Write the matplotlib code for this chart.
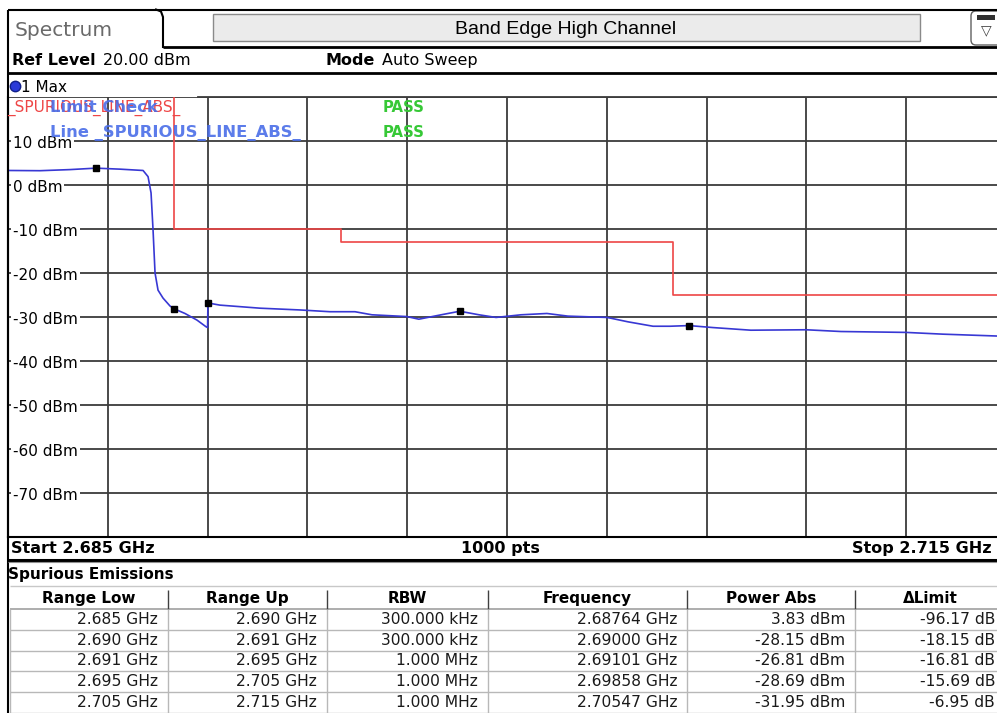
import numpy as np
import matplotlib
matplotlib.use("Agg")
import matplotlib.pyplot as plt
import matplotlib.transforms as mtransforms
from matplotlib.patches import Rectangle, FancyBboxPatch

plt.rcParams['font.family'] = ['DejaVu Sans']

W, H = 997, 713   # picture size in pixels
DPI = 100

# sweep settings
F_START = 2.685   # GHz
F_STOP = 2.715
REF_LEVEL = 20.0  # dBm
RANGE_DB = 100.0

# max hold trace (GHz, dBm)
trace_freq = [2.68500, 2.68596, 2.68686, 2.68764, 2.68837, 2.68906, 2.68921,
              2.68930, 2.68936, 2.68942, 2.68951, 2.68966, 2.68987, 2.69000,
              2.69032, 2.69068, 2.69095, 2.69100, 2.69101, 2.69137, 2.69258,
              2.69378, 2.69468, 2.69543, 2.69594, 2.69699, 2.69735, 2.69802,
              2.69858, 2.69916, 2.69967, 2.70042, 2.70120, 2.70183, 2.70301,
              2.70364, 2.70439, 2.70490, 2.70547, 2.70619, 2.70733, 2.70899,
              2.71004, 2.71199, 2.71310, 2.71464, 2.71500]
trace_dbm = [3.3, 3.25, 3.5, 3.83, 3.6, 3.3, 1.9,
             -1.8, -10.2, -20.0, -23.9, -25.7, -27.5, -28.15,
             -29.2, -30.7, -32.2, -32.4, -26.81, -27.3, -28.0,
             -28.4, -28.8, -28.8, -29.5, -29.9, -30.5, -29.5,
             -28.69, -29.5, -30.1, -29.5, -29.2, -29.8, -30.1,
             -31.1, -32.1, -32.1, -31.95, -32.4, -33.0, -32.9,
             -33.3, -33.5, -33.9, -34.3, -34.4]

# spurious emissions table
range_low = [2.685, 2.690, 2.691, 2.695, 2.705]   # GHz
range_up = [2.690, 2.691, 2.695, 2.705, 2.715]
rbw_txt = ["300.000 kHz", "300.000 kHz", "1.000 MHz", "1.000 MHz", "1.000 MHz"]
peak_freq = [2.68764, 2.69000, 2.69101, 2.69858, 2.70547]
power_abs = [3.83, -28.15, -26.81, -28.69, -31.95]
delta_limit = [-96.17, -18.15, -16.81, -15.69, -6.95]
col_titles = ["Range Low", "Range Up", "RBW", "Frequency", "Power Abs", "\u0394Limit"]

# limit line level per range = power - delta
limit_dbm = [round(p - d, 2) for p, d in zip(power_abs, delta_limit)]

TRACE_C = '#3838d4'
LIMIT_C = '#ee4646'
GRID_C = '#3c3c3c'
INFO_C = '#4a6ee8'

fig = plt.figure(figsize=(W / DPI, H / DPI), dpi=DPI)
fig.patch.set_facecolor('white')

# diagram area, in pixels: x 8..1006 (cut off at the right), y 97..537
px_l, px_r, px_t, px_b = 8, 1006, 97, 537
ax = fig.add_axes([px_l / W, 1 - px_b / H, (px_r - px_l) / W, (px_b - px_t) / H])
ax.set_xlim(F_START, F_STOP)
ax.set_ylim(REF_LEVEL - RANGE_DB, REF_LEVEL)
ax.set_xticks(np.linspace(F_START, F_STOP, 11))
ax.set_yticks(np.arange(REF_LEVEL - RANGE_DB, REF_LEVEL + 1, 10))
ax.tick_params(length=0, labelleft=False, labelbottom=False)
ax.grid(True, color=GRID_C, lw=1.3, zorder=1)
ax.set_axisbelow(True)
for s in ['left', 'bottom']:
    ax.spines[s].set_color('black')
    ax.spines[s].set_linewidth(1.5)
ax.spines['top'].set_visible(False)
ax.spines['right'].set_visible(False)
ax.plot([0.19, 1.0], [1.0, 1.0], transform=ax.transAxes, color=GRID_C, lw=1.3,
        clip_on=False, zorder=1)

# limit line as steps
lim_x, lim_y = [], []
for lo, up, lv in zip(range_low, range_up, limit_dbm):
    lim_x += [lo, up]
    lim_y += [lv, lv]
ax.plot(lim_x, lim_y, color=LIMIT_C, lw=1.2, zorder=3)

ax.plot(trace_freq, trace_dbm, color=TRACE_C, lw=1.2, zorder=4)
ax.plot(peak_freq, power_abs, 's', color='black', ms=4, zorder=5)

# level labels on the left, with white background over the grid
lbl_trans = mtransforms.blended_transform_factory(ax.transAxes, ax.transData) + \
    mtransforms.ScaledTranslation(5 / DPI, -7 / DPI, fig.dpi_scale_trans)
for lv in np.arange(10, REF_LEVEL - RANGE_DB, -10):
    ax.text(0, lv, f"{int(lv)} dBm", transform=lbl_trans, fontsize=11, va='baseline',
            ha='left', zorder=3,
            bbox=dict(facecolor='white', edgecolor='none', boxstyle='square,pad=0.12'))

# overlay in pixel coordinates for all the frame stuff
ov = fig.add_axes([0, 0, 1, 1], zorder=10)
ov.set_xlim(0, W)
ov.set_ylim(H, 0)
ov.axis('off')
ov.patch.set_alpha(0)


def hline(y, x0=8, x1=W, lw=1.5, c='black'):
    ov.plot([x0, x1], [y, y], color=c, lw=lw, solid_capstyle='butt')


def vline(x, y0, y1, lw=1.5, c='black'):
    ov.plot([x, x], [y0, y1], color=c, lw=lw, solid_capstyle='butt')


# title bar
hline(9.5, lw=1.5)
vline(8, 9.5, 713, lw=1.5)
ov.plot([156, 161, 163, 163], [9.5, 11.5, 17, 47], color='black', lw=1.5)
hline(47, x0=163, lw=2)
ov.text(15, 36, "Spectrum", fontsize=14.5, color='#6a6a6a', va='baseline')
ov.add_patch(Rectangle((213, 14), 707, 27, facecolor='#ebebeb', edgecolor='#8a8a8a', lw=1))
ov.text(566, 33.5, "Band Edge High Channel", fontsize=14, family='Liberation Sans',
        ha='center', va='baseline')
ov.add_patch(FancyBboxPatch((971, 11), 40, 34, boxstyle='round,pad=0,rounding_size=5',
                            facecolor='white', edgecolor='#606060', lw=1))
ov.add_patch(Rectangle((977, 15), 18, 5, facecolor='#303030', edgecolor='none'))
ov.text(986, 34, "\u25bd", fontsize=10, ha='center', va='baseline', color='#404040')

# settings row
ov.text(12, 65, "Ref Level", fontsize=11.5, weight='bold', va='baseline')
ov.text(103, 65, "20.00 dBm", fontsize=11.5, va='baseline')
ov.text(325, 65, "Mode", fontsize=11.5, weight='bold', va='baseline')
ov.text(382, 65, "Auto Sweep", fontsize=11.5, va='baseline')
hline(73, lw=2)

# trace info
ov.plot(15, 86, 'o', color='#2a3ad8', ms=7.5, mec='#10208a')
ov.text(21, 91.5, "1 Max", fontsize=11, va='baseline')
ov.text(7, 112, "_SPURIOUS_LINE_ABS_", fontsize=11, color=LIMIT_C, va='baseline')
ov.text(50, 112, "Limit Check", fontsize=11.8, color=INFO_C, weight='bold',
        va='baseline', alpha=0.9)
ov.text(50, 137, "Line _SPURIOUS_LINE_ABS_", fontsize=11.8, color=INFO_C, weight='bold',
        va='baseline', alpha=0.9)
ov.text(383, 112, "PASS", fontsize=10.7, color='#36c836', weight='bold', va='baseline')
ov.text(383, 137, "PASS", fontsize=10.7, color='#36c836', weight='bold', va='baseline')

# sweep row
ov.text(11, 553, f"Start {F_START:.3f} GHz", fontsize=11.5, weight='bold', va='baseline')
ov.text(500, 553, "1000 pts", fontsize=11.5, weight='bold', ha='center', va='baseline')
ov.text(992, 553, f"Stop {F_STOP:.3f} GHz", fontsize=11.5, weight='bold', ha='right',
        va='baseline')
hline(559.5, lw=2.2)
hline(562, lw=0.8, c='#909090')

# result table
ov.text(8, 579, "Spurious Emissions", fontsize=11, weight='bold', va='baseline')
col_edges = [10, 168, 327, 488, 687, 855, 1005]
row_top = 586
head_bot = 609
row_h = 20.8
hline(row_top, x0=10, lw=1, c='#c8c8c8')
hline(head_bot, x0=10, lw=1.2, c='#a0a0a0')
for i, t in enumerate(col_titles):
    ov.text((col_edges[i] + col_edges[i + 1]) / 2, 603, t, fontsize=11, weight='bold',
            ha='center', va='baseline')
    if i > 0:
        vline(col_edges[i], row_top + 4, head_bot, lw=1, c='#404040')

rows = []
for k in range(len(range_low)):
    rows.append([f"{range_low[k]:.3f} GHz", f"{range_up[k]:.3f} GHz", rbw_txt[k],
                 f"{peak_freq[k]:.5f} GHz", f"{power_abs[k]:.2f} dBm",
                 f"{delta_limit[k]:.2f} dB"])
for r, vals in enumerate(rows):
    y0 = head_bot + r * row_h
    y1 = y0 + row_h
    hline(y1, x0=10, lw=1, c='#b8b8b8')
    for i, v in enumerate(vals):
        ov.text(col_edges[i + 1] - 10, y1 - 6, v, fontsize=11.2, color='#1a1a1a',
                ha='right', va='baseline')
for e in col_edges[:-1]:
    vline(e, head_bot, H, lw=1, c='#b8b8b8')

fig.savefig("out.png", dpi=DPI, facecolor='white')
